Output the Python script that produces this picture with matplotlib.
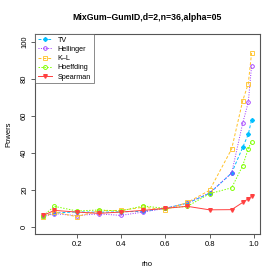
import numpy as np
import matplotlib.pyplot as plt

plt.rcParams['font.family'] = ['Liberation Sans', 'DejaVu Sans']

# данные
rho = [0.05, 0.1, 0.2, 0.3, 0.4, 0.5, 0.6, 0.7, 0.8, 0.9, 0.95, 0.975, 0.99]
tv = [5.8, 7.4, 8.0, 7.8, 8.0, 8.3, 9.9, 12.7, 18.0, 29.0, 42.9, 49.9, 57.8]
hellinger = [5.5, 7.0, 6.0, 6.9, 6.1, 7.9, 9.9, 12.7, 18.2, 29.0, 56.0, 67.2, 87.0]
kl = [5.0, 7.9, 5.4, 8.6, 8.8, 10.5, 9.2, 13.1, 19.6, 42.0, 68.1, 77.3, 93.9]
hoeffding = [6.0, 11.0, 8.5, 9.0, 8.5, 11.2, 9.9, 11.0, 17.8, 21.0, 33.0, 42.2, 46.0]
spearman = [6.1, 8.8, 7.9, 7.2, 7.9, 8.8, 9.9, 11.0, 9.1, 9.2, 13.1, 15.1, 16.4]

fig = plt.figure(figsize=(2.78, 2.78), dpi=100)
ax = fig.add_axes([0.126, 0.158, 0.809, 0.719])

ax.plot(rho, tv, color='#00BFFF', ls=(0, (3, 2)), lw=0.7, marker='D', ms=2.0, label='TV')
ax.plot(rho, hellinger, color='#9B30FF', ls=(0, (1, 1.5)), lw=0.7, marker='o', ms=2.6,
        mfc='none', mew=0.6, label='Hellinger')
ax.plot(rho, kl, color='#FFC125', ls=(0, (3, 2)), lw=0.7, marker='s', ms=2.6,
        mfc='none', mew=0.6, label='K\u2013L')
ax.plot(rho, hoeffding, color='#7FFF00', ls=(0, (1.5, 1.5)), lw=0.7, marker='o', ms=2.8,
        mfc='none', mew=0.7, label='Hoeffding')
ax.plot(rho, spearman, color='#FF4040', ls='-', lw=0.7, marker='v', ms=2.6, label='Spearman')

ax.set_xlim(0.0124, 1.0276)
ax.set_ylim(-4, 104)
ax.set_xticks([0.2, 0.4, 0.6, 0.8, 1.0])
ax.set_yticks([0, 20, 40, 60, 80, 100])
ax.set_xticklabels(['0.2', '0.4', '0.6', '0.8', '1.0'])
ax.tick_params(labelsize=5.5, length=3, width=0.6, color='#444444', pad=2)
for lab in ax.get_yticklabels():
    lab.set_rotation(90)
    lab.set_va('center')
for s in ax.spines.values():
    s.set_linewidth(0.8)
    s.set_color('#555555')

ax.set_xlabel('rho', fontsize=5.5, labelpad=9)
ax.set_ylabel('Powers', fontsize=5.5, labelpad=6)
ax.set_title('MixGum\u2013GumID,d=2,n=36,alpha=05', fontsize=6.3, fontweight='bold', pad=10)

leg = ax.legend(loc='upper left', fontsize=5.2, frameon=True, fancybox=False,
                borderaxespad=0, handlelength=2.0, labelspacing=0.3, borderpad=0.35,
                handletextpad=0.8)
leg.get_frame().set_edgecolor('#555555')
leg.get_frame().set_linewidth(0.6)

fig.savefig('out.png', dpi=100)
